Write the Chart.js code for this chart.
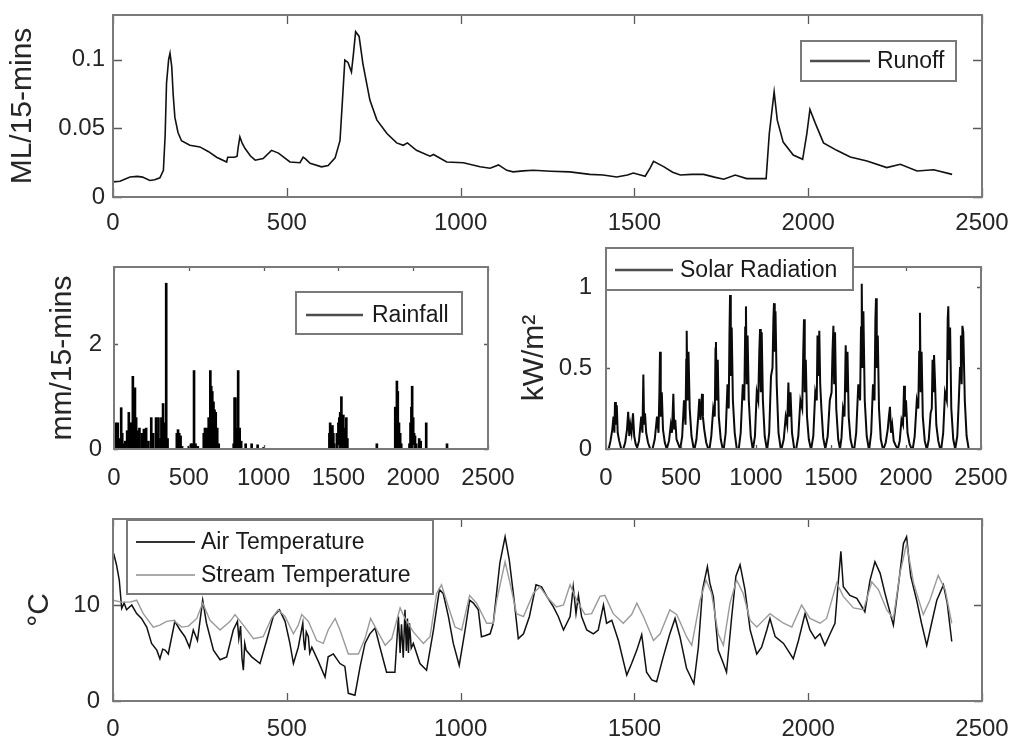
<!DOCTYPE html>
<html>
<head>
<meta charset="utf-8">
<script src="https://cdn.jsdelivr.net/npm/chart.js@4.4.1/dist/chart.umd.min.js"></script>
<style>
  html, body { margin: 0; padding: 0; background: #fff; }
  #fig { position: relative; width: 1011px; height: 742px; overflow: hidden; background: #fff; }
  #fig canvas { position: absolute; left: 0; top: 0; }
</style>
</head>
<body>
<div id="fig">
  <canvas id="runoffChart" width="1011" height="742"></canvas>
  <canvas id="rainChart" width="1011" height="742"></canvas>
  <canvas id="solarChart" width="1011" height="742"></canvas>
  <canvas id="tempChart" width="1011" height="742"></canvas>
</div>
<script>
// ---- time axis (15-minute steps) ----
const timeTicks = [0, 500, 1000, 1500, 2000, 2500];

// ---- runoff, ML per 15 minutes ----
const runoffX = [0, 20, 49, 70, 85, 106, 120, 135, 145, 150, 154, 160, 164, 169, 173, 178, 187, 197, 221, 250,
  275, 298, 327, 330, 350, 357, 360, 365, 372, 380, 395, 409, 432, 456, 476, 509, 538, 547, 553, 567,
  600, 619, 639, 653, 660, 667, 676, 686, 692, 698, 708, 719, 739, 759, 788, 816, 835, 847, 873, 912,
  922, 960, 1008, 1056, 1085, 1109, 1133, 1151, 1180, 1209, 1260, 1314, 1372, 1410, 1449, 1480, 1497, 1531, 1545, 1555,
  1584, 1610, 1632, 1665, 1699, 1730, 1757, 1790, 1823, 1879, 1888, 1902, 1911, 1928, 1957, 1984, 1996, 2005, 2020, 2044,
  2082, 2121, 2169, 2226, 2265, 2313, 2361, 2414];
const runoffY = [0.011, 0.0115, 0.0146, 0.015, 0.0145, 0.012, 0.0125, 0.014, 0.0195, 0.045, 0.083, 0.1, 0.1047, 0.095, 0.075, 0.058, 0.047, 0.041, 0.0377, 0.0365,
  0.033, 0.029, 0.0255, 0.029, 0.029, 0.0297, 0.036, 0.0438, 0.039, 0.0353, 0.030, 0.0268, 0.028, 0.034, 0.032, 0.0255, 0.025, 0.029, 0.028, 0.0245,
  0.022, 0.023, 0.0285, 0.041, 0.07, 0.0998, 0.098, 0.091, 0.105, 0.1204, 0.117, 0.097, 0.0706, 0.0562, 0.0463, 0.0394, 0.0377, 0.0394, 0.034, 0.0297,
  0.031, 0.0255, 0.025, 0.0221, 0.021, 0.0234, 0.0194, 0.0183, 0.019, 0.0195, 0.0188, 0.0183, 0.0165, 0.016, 0.0146, 0.016, 0.0175, 0.0151, 0.021, 0.026,
  0.0221, 0.018, 0.016, 0.0165, 0.0165, 0.0145, 0.013, 0.016, 0.0134, 0.0134, 0.046, 0.0766, 0.056, 0.040, 0.0306, 0.0275, 0.046, 0.0638, 0.054, 0.0394,
  0.034, 0.0292, 0.0263, 0.0214, 0.0238, 0.0189, 0.0199, 0.0165];

// ---- rainfall, mm per 15 minutes ----
const rainX = [5, 12, 18, 25, 32, 40, 48, 55, 62, 75, 88, 99, 108, 118, 126, 133, 140, 148, 158, 170,
  185, 200, 215, 230, 249, 262, 281, 290, 297, 310, 317, 328, 338, 349, 358, 420, 428, 436, 445, 455,
  500, 515, 525, 535, 545, 560, 600, 608, 615, 622, 633, 644, 650, 657, 665, 672, 680, 690, 700, 800,
  806, 812, 820, 830, 840, 850, 880, 920, 960, 1000, 1440, 1445, 1452, 1460, 1466, 1472, 1490, 1500, 1506, 1512,
  1520, 1527, 1533, 1540, 1553, 1560, 1757, 1880, 1885, 1891, 1897, 1905, 1913, 1920, 1975, 1982, 1988, 1993, 2000, 2006,
  2012, 2020, 2040, 2050, 2087, 2226];
const rainY = [0.2, 0.5, 0.3, 0.5, 0.15, 0.2, 0.79, 0.3, 0.1, 0.15, 0.35, 0.7, 0.5, 0.5, 1.39, 0.9, 1.17, 0.6, 0.35, 0.4,
  0.3, 0.38, 0.4, 0.15, 0.6, 0.3, 0.6, 0.3, 0.6, 0.2, 0.6, 0.87, 0.5, 3.17, 0.2, 0.3, 0.37, 0.3, 0.25, 0.05,
  0.05, 0.1, 0.1, 1.5, 0.1, 0.05, 0.3, 0.4, 0.35, 0.4, 0.6, 1.5, 1.2, 1.1, 0.9, 0.75, 0.7, 0.4, 0.1, 0.1,
  0.98, 0.98, 0.4, 1.5, 0.4, 0.15, 0.1, 0.1, 0.08, 0.03, 0.3, 0.5, 0.4, 0.45, 0.3, 0.1, 0.3, 0.5, 0.6, 0.7,
  1.0, 0.6, 0.65, 0.4, 0.6, 0.2, 0.1, 0.8, 0.6, 1.3, 1.1, 0.5, 0.3, 0.1, 0.1, 0.5, 0.8, 1.2, 0.6, 0.3,
  0.25, 0.1, 0.2, 0.15, 0.5, 0.1];

// ---- solar radiation, kW/m^2 (one row per day) ----
const solarX = [
  18, 30, 42, 50, 56, 60, 66, 72, 78, 88, 102,
  115, 128, 140, 148, 155, 162, 170, 180, 188, 198, 212,
  205, 220, 235, 243, 249, 254, 260, 268, 280, 295,
  310, 325, 340, 350, 356, 360, 365, 372, 380, 392, 405,
  405, 420, 432, 440, 449, 455, 462, 470, 482, 495,
  495, 508, 520, 530, 535, 538, 543, 550, 558, 570, 585,
  590, 603, 615, 622, 630, 640, 646, 655, 668, 682,
  690, 702, 715, 725, 730, 733, 738, 745, 752, 765, 778,
  785, 798, 810, 818, 823, 827, 832, 838, 846, 858, 872,
  885, 898, 912, 922, 928, 933, 938, 944, 952, 965, 978,
  980, 993, 1005, 1015, 1022, 1027, 1032, 1038, 1046, 1058, 1072,
  1075, 1088, 1100, 1110, 1116, 1120, 1125, 1130, 1138, 1150, 1165,
  1170, 1185, 1198, 1208, 1216, 1222, 1230, 1240, 1255,
  1268, 1282, 1296, 1308, 1315, 1320, 1325, 1332, 1340, 1352, 1366,
  1368, 1382, 1395, 1405, 1410, 1416, 1422, 1428, 1436, 1448, 1462,
  1465, 1478, 1492, 1504, 1510, 1516, 1521, 1527, 1535, 1548, 1560,
  1560, 1570, 1580, 1590, 1598, 1604, 1610, 1618, 1630, 1645,
  1655, 1668, 1682, 1694, 1700, 1705, 1710, 1716, 1725, 1738, 1752,
  1755, 1768, 1780, 1790, 1796, 1800, 1805, 1812, 1820, 1832, 1846,
  1850, 1865, 1878, 1886, 1893, 1900, 1908, 1918, 1932, 1946,
  1946, 1958, 1970, 1980, 1987, 1993, 2000, 2010, 2024, 2038,
  2045, 2058, 2072, 2082, 2088, 2093, 2098, 2104, 2112, 2125, 2138,
  2140, 2152, 2164, 2172, 2177, 2182, 2187, 2194, 2202, 2215, 2228,
  2235, 2248, 2260, 2272, 2278, 2282, 2287, 2294, 2302, 2315, 2328,
  2330, 2342, 2352, 2360, 2366, 2371, 2376, 2382, 2392, 2404, 2418];
const solarY = [
  0, 0.05, 0.12, 0.2, 0.1, 0.29, 0.15, 0.27, 0.1, 0.05, 0,
  0, 0.04, 0.12, 0.23, 0.08, 0.15, 0.1, 0.22, 0.08, 0.03, 0,
  0, 0.05, 0.2, 0.1, 0.46, 0.15, 0.22, 0.1, 0.04, 0,
  0, 0.06, 0.2, 0.1, 0.35, 0.6, 0.2, 0.35, 0.12, 0.04, 0,
  0, 0.05, 0.15, 0.1, 0.34, 0.12, 0.18, 0.06, 0.03, 0,
  0, 0.08, 0.3, 0.15, 0.55, 0.73, 0.3, 0.6, 0.25, 0.08, 0,
  0, 0.06, 0.2, 0.31, 0.18, 0.34, 0.2, 0.12, 0.04, 0,
  0, 0.08, 0.25, 0.2, 0.62, 0.66, 0.3, 0.55, 0.2, 0.06, 0,
  0, 0.1, 0.4, 0.25, 0.7, 0.95, 0.45, 0.75, 0.3, 0.1, 0,
  0, 0.1, 0.4, 0.3, 0.75, 0.88, 0.4, 0.7, 0.3, 0.08, 0,
  0, 0.08, 0.35, 0.3, 0.6, 0.74, 0.35, 0.72, 0.3, 0.08, 0,
  0, 0.1, 0.45, 0.5, 0.8, 0.9, 0.6, 0.85, 0.4, 0.1, 0,
  0, 0.06, 0.2, 0.15, 0.41, 0.2, 0.35, 0.1, 0,
  0, 0.08, 0.3, 0.25, 0.6, 0.8, 0.35, 0.55, 0.2, 0.06, 0,
  0, 0.08, 0.35, 0.3, 0.7, 0.45, 0.73, 0.4, 0.25, 0.07, 0,
  0, 0.08, 0.3, 0.35, 0.6, 0.76, 0.4, 0.72, 0.25, 0.06, 0,
  0, 0.07, 0.25, 0.2, 0.64, 0.35, 0.6, 0.2, 0.06, 0,
  0, 0.1, 0.4, 0.3, 0.75, 1.02, 0.5, 0.85, 0.3, 0.08, 0,
  0, 0.1, 0.4, 0.3, 0.8, 0.93, 0.5, 0.7, 0.25, 0.06, 0,
  0, 0.04, 0.12, 0.2, 0.26, 0.1, 0.15, 0.05, 0.02, 0,
  0, 0.05, 0.18, 0.15, 0.39, 0.2, 0.3, 0.1, 0.03, 0,
  0, 0.08, 0.3, 0.25, 0.6, 0.84, 0.35, 0.6, 0.2, 0.05, 0,
  0, 0.06, 0.22, 0.25, 0.55, 0.35, 0.58, 0.4, 0.15, 0.05, 0,
  0, 0.1, 0.35, 0.3, 0.8, 0.88, 0.55, 0.75, 0.25, 0.06, 0,
  0, 0.08, 0.3, 0.5, 0.7, 0.4, 0.76, 0.72, 0.3, 0.08, 0];

// ---- air temperature, deg C ----
const airX = [0, 3, 10, 18, 25, 32, 39, 54, 68, 82, 97, 111, 126, 135, 143, 150, 159, 178, 193, 207,
  220, 231, 243, 258, 269, 289, 308, 327, 346, 358, 362, 367, 371, 375, 379, 383, 399, 423, 442, 461,
  479, 495, 509, 519, 533, 546, 549, 552, 556, 562, 566, 572, 591, 610, 619, 634, 653, 667, 677, 696,
  711, 725, 739, 754, 768, 787, 811, 821, 826, 830, 835, 840, 844, 847, 850, 853, 858, 864, 883, 902,
  922, 939, 950, 965, 979, 996, 1013, 1026, 1037, 1051, 1060, 1070, 1085, 1094, 1113, 1128, 1140, 1154, 1166, 1181,
  1198, 1217, 1233, 1248, 1267, 1281, 1296, 1315, 1324, 1332, 1339, 1348, 1363, 1382, 1396, 1411, 1420, 1435, 1454, 1478,
  1492, 1507, 1521, 1535, 1550, 1564, 1583, 1602, 1617, 1631, 1650, 1671, 1684, 1696, 1710, 1717, 1727, 1741, 1756, 1765,
  1780, 1792, 1804, 1818, 1833, 1852, 1866, 1881, 1890, 1905, 1929, 1957, 1972, 1991, 2005, 2020, 2034, 2048, 2063, 2077,
  2087, 2094, 2101, 2120, 2140, 2163, 2178, 2192, 2207, 2221, 2245, 2259, 2274, 2283, 2295, 2312, 2326, 2341, 2355, 2370,
  2389, 2400, 2413];
const airY = [15.0, 15.2, 14.2, 12.6, 9.65, 10.2, 9.5, 10, 9.1, 8.6, 7.7, 6.0, 5.3, 4.4, 5.4, 5.3, 4.9, 8.3, 7.4, 6.7,
  5.6, 7.4, 6.3, 10.5, 8.1, 5.3, 4.3, 4.6, 7.4, 8.3, 6.5, 7.8, 4.5, 3.2, 6.0, 5.3, 4.6, 3.9, 6.3, 8.8,
  9.5, 8.3, 6.0, 3.9, 5.6, 8.1, 6.2, 5.3, 7.2, 6.7, 5.0, 5.6, 4.1, 2.5, 4.6, 4.9, 3.9, 3.6, 0.8, 0.6,
  3.6, 6.0, 7.0, 7.6, 5.6, 3.0, 3.0, 8.8, 5.0, 8.0, 4.5, 9.5, 5.2, 8.6, 5.0, 8.1, 5.5, 6.0, 3.9, 3.2,
  7.4, 11.6, 11.2, 8.8, 6.0, 3.7, 7.4, 10.5, 10.2, 9.5, 6.7, 6.8, 7.0, 8.1, 14.4, 17.1, 14.7, 10.5, 6.5, 7.0,
  8.8, 12.1, 11.9, 10.9, 9.8, 8.8, 7.4, 8.8, 11.9, 9.1, 11.0, 8.8, 7.4, 7.0, 7.4, 10.0, 8.1, 8.4, 6.3, 2.7,
  3.9, 5.3, 6.9, 3.0, 2.2, 2.0, 4.6, 7.0, 8.6, 6.7, 3.4, 1.8, 5.6, 11.6, 14.0, 12.3, 10.9, 5.3, 3.9, 3.0,
  8.8, 13.0, 14.2, 11.6, 7.4, 4.9, 5.6, 7.4, 8.6, 6.7, 6.0, 4.4, 6.3, 9.1, 7.4, 6.5, 7.0, 5.8, 7.0, 8.1,
  12.6, 15.6, 11.9, 11.0, 10.7, 9.3, 12.6, 14.5, 13.3, 11.2, 7.9, 11.9, 16.4, 17.1, 13.0, 10.5, 8.1, 5.8, 8.1, 10.5,
  12.1, 10.2, 6.2];

// ---- stream temperature, deg C ----
const streamX = [0, 25, 49, 68, 87, 116, 135, 154, 174, 198, 217, 241, 258, 279, 308, 337, 351, 375, 404, 432,
  456, 475, 495, 519, 533, 543, 562, 586, 605, 619, 639, 653, 677, 706, 725, 741, 759, 783, 802, 826,
  840, 864, 893, 912, 931, 945, 965, 984, 1003, 1026, 1046, 1075, 1094, 1104, 1128, 1142, 1161, 1181, 1209, 1228,
  1252, 1276, 1296, 1315, 1334, 1358, 1377, 1401, 1415, 1439, 1468, 1492, 1507, 1526, 1555, 1574, 1602, 1622, 1650, 1665,
  1689, 1706, 1722, 1741, 1756, 1775, 1794, 1813, 1833, 1852, 1871, 1890, 1909, 1929, 1953, 1981, 2005, 2034, 2053, 2082,
  2101, 2130, 2159, 2183, 2202, 2226, 2245, 2264, 2283, 2303, 2331, 2350, 2374, 2394, 2413];
const streamY = [10.5, 10.3, 10.3, 10.5, 9.1, 7.7, 7.9, 8.3, 8.4, 7.7, 7.8, 8.6, 10.2, 8.4, 7.4, 8.3, 9.0, 7.9, 6.5, 6.7,
  8.6, 9.5, 8.8, 7.0, 7.9, 9.0, 8.3, 6.3, 6.0, 7.4, 8.6, 7.4, 4.9, 4.9, 6.5, 8.6, 7.4, 5.8, 6.5, 9.7,
  8.6, 7.2, 6.0, 6.7, 11.2, 12.1, 9.8, 7.7, 7.4, 11.0, 10.2, 8.1, 8.1, 10.5, 14.5, 12.3, 9.1, 8.8, 11.2, 11.9,
  10.7, 9.8, 10.0, 12.1, 10.5, 9.0, 9.1, 10.9, 11.0, 9.1, 8.1, 9.0, 10.2, 8.8, 6.3, 7.0, 9.5, 9.0, 6.7, 5.8,
  10.5, 12.6, 11.2, 7.0, 5.8, 10.2, 12.6, 11.2, 8.4, 7.7, 8.4, 9.1, 8.6, 8.1, 7.7, 10.0, 8.6, 8.1, 8.6, 12.3,
  10.9, 9.7, 9.5, 12.4, 11.6, 9.5, 8.6, 13.3, 16.4, 12.3, 9.0, 10.5, 13.1, 11.6, 8.1];

// ---- shared styling ----
const FONT_FAMILY = '"Liberation Sans", Arial, Helvetica, sans-serif';
const INK = '#262626';
const FRAME = '#7a7a7a';
const tickFont = { family: FONT_FAMILY, size: 24 };
const legendFont = { family: FONT_FAMILY, size: 23 };
const titleFont = { family: FONT_FAMILY, size: 30 };

const toPoints = (xs, ys) => xs.map((x, i) => ({ x, y: ys[i] }));
const fmt = v => String(Math.round(v * 1000) / 1000);

// box frame with inward tick marks on all four sides
const frameTicks = {
  id: 'frameTicks',
  afterDatasetsDraw(chart, args, opts) {
    const { ctx, chartArea: a, scales } = chart;
    const len = opts.len || 6;
    ctx.save();
    ctx.strokeStyle = '#5a5a5a';
    ctx.lineWidth = 1.3;
    ctx.beginPath();
    scales.x.ticks.forEach(t => {
      const px = Math.round(scales.x.getPixelForValue(t.value)) + 0.5;
      ctx.moveTo(px, a.bottom); ctx.lineTo(px, a.bottom - len);
      ctx.moveTo(px, a.top); ctx.lineTo(px, a.top + len);
    });
    scales.y.ticks.forEach(t => {
      const py = Math.round(scales.y.getPixelForValue(t.value)) + 0.5;
      ctx.moveTo(a.left, py); ctx.lineTo(a.left + len, py);
      ctx.moveTo(a.right, py); ctx.lineTo(a.right - len, py);
    });
    ctx.stroke();
    ctx.strokeStyle = FRAME;
    ctx.lineWidth = 2;
    ctx.strokeRect(a.left, a.top, a.right - a.left, a.bottom - a.top);
    ctx.restore();
  }
};

// boxed legend drawn at a fixed spot of the figure
const boxLegend = {
  id: 'boxLegend',
  afterDraw(chart, args, o) {
    const ctx = chart.ctx;
    ctx.save();
    ctx.fillStyle = '#fff';
    ctx.fillRect(o.x, o.y, o.w, o.h);
    ctx.strokeStyle = FRAME;
    ctx.lineWidth = 2;
    ctx.strokeRect(o.x, o.y, o.w, o.h);
    ctx.font = `${legendFont.size}px ${FONT_FAMILY}`;
    ctx.textBaseline = 'middle';
    ctx.textAlign = 'left';
    o.items.forEach((it, i) => {
      const y = o.rows[i];
      ctx.strokeStyle = it.color;
      ctx.lineWidth = it.width;
      ctx.beginPath();
      ctx.moveTo(o.lineX[0], y);
      ctx.lineTo(o.lineX[1], y);
      ctx.stroke();
      ctx.fillStyle = '#1a1a1a';
      ctx.fillText(it.label, o.textX, y + 1);
    });
    ctx.restore();
  }
};

function axisX(pad, height) {
  return {
    type: 'linear', min: 0, max: 2500, offset: false,
    afterBuildTicks: s => { s.ticks = timeTicks.map(v => ({ value: v })); },
    ticks: { autoSkip: false, maxRotation: 0, minRotation: 0, includeBounds: false, padding: pad,
             font: tickFont, color: INK, callback: fmt },
    grid: { display: false, drawTicks: false },
    border: { display: false },
    afterFit: s => { s.height = height; s.paddingLeft = s.paddingRight = s.paddingTop = s.paddingBottom = 0; }
  };
}

function axisY(max, step, title, titlePad, pad, width) {
  return {
    type: 'linear', min: 0, max: max,
    ticks: { stepSize: step, includeBounds: false, padding: pad, font: tickFont, color: INK, callback: fmt },
    grid: { display: false, drawTicks: false },
    border: { display: false },
    title: { display: true, text: title, font: titleFont, color: INK, padding: { top: titlePad, bottom: 0 } },
    afterFit: s => { s.width = width; s.paddingLeft = s.paddingRight = s.paddingTop = s.paddingBottom = 0; }
  };
}

function baseOptions(layoutPad, scales, legend, tickLen) {
  return {
    responsive: false, animation: false, devicePixelRatio: 1,
    layout: { padding: layoutPad, autoPadding: false },
    scales: scales,
    elements: { point: { radius: 0 }, line: { tension: 0 } },
    plugins: { legend: { display: false }, tooltip: { enabled: false },
               frameTicks: { len: tickLen }, boxLegend: legend }
  };
}

// Runoff (top panel)
new Chart(document.getElementById('runoffChart'), {
  type: 'line',
  data: { datasets: [{ label: 'Runoff', data: toPoints(runoffX, runoffY),
                       borderColor: '#111', borderWidth: 1.6, fill: false }] },
  options: baseOptions({ left: 0, right: 29, top: 15, bottom: 500 },
    { x: axisX(12, 45), y: axisY(0.1326, 0.05, 'ML/15-mins', 5, 8, 113) },
    { x: 801, y: 41, w: 155, h: 40, lineX: [810, 870], textX: 877, rows: [61],
      items: [{ label: 'Runoff', color: '#4d4d4d', width: 2.5 }] }, 9),
  plugins: [frameTicks, boxLegend]
});

// Rainfall (middle left)
new Chart(document.getElementById('rainChart'), {
  type: 'bar',
  data: { datasets: [{ label: 'Rainfall', data: toPoints(rainX, rainY),
                       backgroundColor: '#000', borderWidth: 0, barThickness: 2 }] },
  options: baseOptions({ left: 0, right: 523, top: 267, bottom: 248 },
    { x: axisX(15, 45), y: axisY(3.48, 2, 'mm/15-mins', 45, 12, 114) },
    { x: 296, y: 292, w: 166, h: 42, lineX: [306, 363], textX: 372, rows: [315],
      items: [{ label: 'Rainfall', color: '#4d4d4d', width: 2.5 }] }, 4),
  plugins: [frameTicks, boxLegend]
});

// Solar radiation (middle right)
new Chart(document.getElementById('solarChart'), {
  type: 'line',
  data: { datasets: [{ label: 'Solar Radiation', data: toPoints(solarX, solarY),
                       borderColor: '#0a0a0a', borderWidth: 2, fill: false }] },
  options: baseOptions({ left: 500, right: 30, top: 267, bottom: 248 },
    { x: axisX(15, 45), y: axisY(1.123, 0.5, 'kW/m²', 17, 14, 106) },
    { x: 606, y: 248, w: 247, h: 42, lineX: [615, 673], textX: 680, rows: [270],
      items: [{ label: 'Solar Radiation', color: '#4d4d4d', width: 2.5 }] }, 4),
  plugins: [frameTicks, boxLegend]
});

// Air and stream temperature (bottom panel)
new Chart(document.getElementById('tempChart'), {
  type: 'line',
  data: { datasets: [
    { label: 'Stream Temperature', data: toPoints(streamX, streamY), borderColor: '#9a9a9a', borderWidth: 1.4, fill: false },
    { label: 'Air Temperature', data: toPoints(airX, airY), borderColor: '#111', borderWidth: 1.5, fill: false }
  ] },
  options: baseOptions({ left: 0, right: 29, top: 519, bottom: 3 },
    { x: axisX(14, 38), y: axisY(18.96, 10, '°C', 22, 13, 113) },
    { x: 127, y: 520, w: 306, h: 74, lineX: [136, 195], textX: 201, rows: [542, 575],
      items: [{ label: 'Air Temperature', color: '#333', width: 2.2 },
              { label: 'Stream Temperature', color: '#aaa', width: 2.2 }] }, 8),
  plugins: [frameTicks, boxLegend]
});
</script>
</body>
</html>
